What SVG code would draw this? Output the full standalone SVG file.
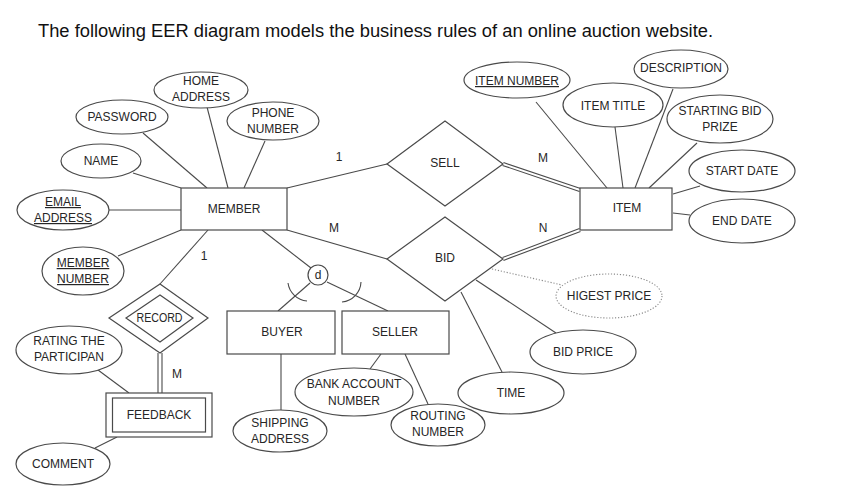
<svg xmlns="http://www.w3.org/2000/svg" width="867" height="493" viewBox="0 0 867 493">
<style>
.e{fill:#fff;stroke:#4a4a4a;stroke-width:1.2}
.r{fill:#fff;stroke:#4a4a4a;stroke-width:1.2}
.l{stroke:#4a4a4a;stroke-width:1.1;fill:none}
.dot{stroke:#888;stroke-width:1.1;fill:none;stroke-dasharray:1.2 1.8}
text{font-family:"Liberation Sans",Arial,sans-serif;font-size:12px;fill:#262626;text-anchor:middle}
.u{text-decoration:underline}
.t{font-size:17.5px;text-anchor:start;fill:#111}
</style>
<rect width="867" height="493" fill="#fff"/>
<text class="t" x="38" y="37" textLength="675" lengthAdjust="spacingAndGlyphs">The following EER diagram models the business rules of an online auction website.</text>

<g id="connectors">
<line class="l" x1="207" y1="107" x2="228" y2="188"/>
<line class="l" x1="143" y1="133" x2="207" y2="188"/>
<line class="l" x1="265" y1="141" x2="244" y2="188"/>
<line class="l" x1="133" y1="173" x2="181" y2="188"/>
<line class="l" x1="109" y1="210" x2="181" y2="210"/>
<line class="l" x1="118" y1="256" x2="181" y2="230"/>
<line class="l" x1="208" y1="230" x2="160" y2="284"/>
<line class="l" x1="262" y1="230" x2="311" y2="268"/>
<line class="l" x1="287" y1="188" x2="387" y2="164"/>
<line class="l" x1="287" y1="230" x2="387" y2="259"/>
<line class="l" x1="502.5" y1="165.4" x2="579.5" y2="191.4"/>
<line class="l" x1="503.5" y1="162.6" x2="580.5" y2="188.6"/>
<line class="l" x1="503.5" y1="260.4" x2="580.5" y2="231.4"/>
<line class="l" x1="502.5" y1="257.6" x2="579.5" y2="228.6"/>
<line class="l" x1="536" y1="102" x2="607" y2="188"/>
<line class="l" x1="615" y1="127" x2="623" y2="188"/>
<line class="l" x1="673" y1="89" x2="635" y2="188"/>
<line class="l" x1="697" y1="143" x2="649" y2="188"/>
<line class="l" x1="673" y1="194" x2="700" y2="186"/>
<line class="l" x1="673" y1="213" x2="690" y2="215"/>
<line class="l" x1="461" y1="292" x2="502" y2="372"/>
<line class="l" x1="476" y1="280" x2="556" y2="333"/>
<line class="dot" x1="492" y1="269" x2="562" y2="285"/>
<line class="l" x1="310" y1="283" x2="278" y2="311"/>
<line class="l" x1="327" y1="282" x2="388" y2="311"/>
<path class="l" d="M288,283 A21,21 0 0 0 307,301"/>
<path class="l" d="M361,282 A21,21 0 0 1 342,302"/>
<line class="l" x1="281" y1="354" x2="281" y2="410"/>
<line class="l" x1="381" y1="354" x2="370" y2="369"/>
<line class="l" x1="405" y1="354" x2="428" y2="404"/>
<line class="l" x1="158" y1="353" x2="158" y2="393"/>
<line class="l" x1="162" y1="353" x2="162" y2="393"/>
<line class="l" x1="98" y1="370" x2="129" y2="393"/>
<line class="l" x1="117" y1="437" x2="95" y2="448"/>
<text x="339" y="161">1</text>
<text x="543" y="162">M</text>
<text x="334" y="232">M</text>
<text x="543" y="232">N</text>
<text x="204" y="260">1</text>
<text x="177" y="378">M</text>
</g>

<g id="member"><rect class="r" x="181" y="188" width="106" height="42"/><text x="234" y="213">MEMBER</text></g>
<g id="item"><rect class="r" x="580" y="188" width="92" height="42"/><text x="627" y="212">ITEM</text></g>
<g id="buyer"><rect class="r" x="227" y="311" width="108" height="43"/><text x="282" y="336">BUYER</text></g>
<g id="seller"><rect class="r" x="342" y="311" width="107" height="43"/><text x="395" y="336">SELLER</text></g>
<g id="feedback"><rect class="r" x="106" y="393" width="106" height="44"/><rect class="r" x="112.5" y="398" width="93" height="34"/><text x="159" y="419">FEEDBACK</text></g>

<g id="sell"><polygon class="r" points="387,164 445,121 503,164 445,206"/><text x="445" y="167">SELL</text></g>
<g id="bid"><polygon class="r" points="387,259 445,217 503,259 445,301"/><text x="445" y="262">BID</text></g>
<g id="record"><polygon class="r" points="109,318 160,284 208,318 160,353"/><polygon class="r" points="126,318 160,295 193,318 160,342"/><text x="159.5" y="322" font-size="11.5" textLength="46" lengthAdjust="spacingAndGlyphs">RECORD</text></g>
<g id="d"><circle class="e" cx="318" cy="275" r="10"/><text x="318" y="279">d</text></g>

<g id="home-address"><ellipse class="e" cx="201" cy="90" rx="47" ry="18"/><text x="201" y="85">HOME</text><text x="201" y="101">ADDRESS</text></g>
<g id="password"><ellipse class="e" cx="122" cy="117" rx="46" ry="17"/><text x="122" y="121">PASSWORD</text></g>
<g id="phone-number"><ellipse class="e" cx="273" cy="121" rx="46" ry="19"/><text x="273" y="117">PHONE</text><text x="273" y="133">NUMBER</text></g>
<g id="name"><ellipse class="e" cx="101" cy="161" rx="40" ry="17"/><text x="101" y="165">NAME</text></g>
<g id="email-address"><ellipse class="e" cx="63" cy="210" rx="46" ry="20"/><text class="u" x="63" y="206">EMAIL</text><text class="u" x="63" y="222">ADDRESS</text></g>
<g id="member-number"><ellipse class="e" cx="83" cy="271" rx="41" ry="24"/><text class="u" x="83" y="267">MEMBER</text><text class="u" x="83" y="283">NUMBER</text></g>
<g id="rating"><ellipse class="e" cx="69" cy="350" rx="53" ry="24"/><text x="69" y="345">RATING THE</text><text x="69" y="361">PARTICIPAN</text></g>
<g id="comment"><ellipse class="e" cx="63" cy="464" rx="47" ry="21"/><text x="63" y="468">COMMENT</text></g>
<g id="shipping-address"><ellipse class="e" cx="280" cy="431" rx="47" ry="21"/><text x="280" y="427">SHIPPING</text><text x="280" y="443">ADDRESS</text></g>
<g id="bank-account"><ellipse class="e" cx="354" cy="392" rx="59" ry="24"/><text x="354" y="388">BANK ACCOUNT</text><text x="354" y="405">NUMBER</text></g>
<g id="routing-number"><ellipse class="e" cx="438" cy="425" rx="47" ry="21"/><text x="438" y="420">ROUTING</text><text x="438" y="436">NUMBER</text></g>
<g id="time"><ellipse class="e" cx="511" cy="393" rx="53" ry="21"/><text x="511" y="397">TIME</text></g>
<g id="bid-price"><ellipse class="e" cx="583" cy="352" rx="53" ry="22"/><text x="583" y="356">BID PRICE</text></g>
<g id="highest-price"><ellipse class="dot" cx="609" cy="296" rx="53" ry="22"/><text x="609" y="300">HIGEST PRICE</text></g>
<g id="item-number"><ellipse class="e" cx="517" cy="80" rx="53" ry="18"/><text class="u" x="517" y="85">ITEM NUMBER</text></g>
<g id="item-title"><ellipse class="e" cx="613" cy="105" rx="50" ry="22"/><text x="613" y="110">ITEM TITLE</text></g>
<g id="description"><ellipse class="e" cx="681" cy="69" rx="47" ry="19"/><text x="681" y="72">DESCRIPTION</text></g>
<g id="starting-bid"><ellipse class="e" cx="720" cy="119" rx="53" ry="24"/><text x="720" y="115">STARTING BID</text><text x="720" y="131">PRIZE</text></g>
<g id="start-date"><ellipse class="e" cx="742" cy="171" rx="53" ry="21"/><text x="742" y="175">START DATE</text></g>
<g id="end-date"><ellipse class="e" cx="742" cy="221" rx="53" ry="22"/><text x="742" y="225">END DATE</text></g>
</svg>
